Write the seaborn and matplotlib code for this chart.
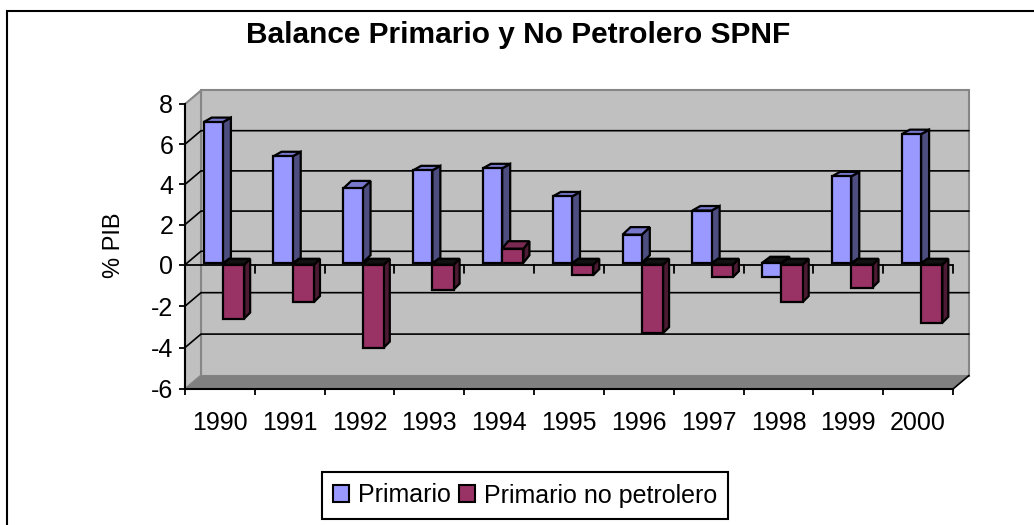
import numpy as np
import pandas as pd
import seaborn as sns
import matplotlib.pyplot as plt
from matplotlib.patches import Polygon
from matplotlib.transforms import IdentityTransform

years = ['1990', '1991', '1992', '1993', '1994', '1995', '1996', '1997', '1998', '1999', '2000']
primario = [7.0, 5.3, 3.7, 4.6, 4.7, 3.3, 1.4, 2.6, -0.7, 4.3, 6.4]
no_petrolero = [-2.6, -1.8, -4.0, -1.2, 0.7, -0.5, -3.3, -0.6, -1.8, -1.1, -2.8]
y_ticks = [-6, -4, -2, 0, 2, 4, 6, 8]

sns.set_theme(style='white')
plt.rcParams['font.family'] = ['Liberation Sans', 'DejaVu Sans']
plt.rcParams['axes.unicode_minus'] = False

W, H = 1034, 525
FS = 18
fig = plt.figure(figsize=(W / 100, H / 100), dpi=100)

# front plane of the fake 3d box, in pixels of the image
left, right, top, bottom = 185, 953, 104, 389
ax = fig.add_axes([left / W, 1 - bottom / H, (right - left) / W, (bottom - top) / H])

df = pd.DataFrame({
    'year': years * 2,
    'value': primario + no_petrolero,
    'serie': ['Primario'] * 11 + ['Primario no petrolero'] * 11,
})

sns.barplot(data=df, x='year', y='value', hue='serie',
            palette=['#9999FF', '#993366'], width=0.58, gap=0,
            edgecolor='black', linewidth=1.6, saturation=1, ax=ax, zorder=5)


# the zero line of the original sits a bit above a straight scale
def squash(v):
    v = np.asarray(v, dtype=float)
    return np.where(v >= 0, v * 20.09, v * 20.7)


def unsquash(p):
    p = np.asarray(p, dtype=float)
    return np.where(p >= 0, p / 20.09, p / 20.7)


ax.set_yscale('function', functions=(squash, unsquash))
ax.set_xlim(-0.5, 10.5)
ax.set_ylim(-6, 8)
ax.set_yticks(y_ticks)
ax.set_yticklabels([str(v) for v in y_ticks])

GREY = '#868686'
WALL_DX, WALL_DY = 16, 13.5
px_x = 11 / (right - left)


def pt(x, y, dx=0, dy=0):
    # data point to display pixels, with an optional pixel offset for depth
    a, b = ax.transData.transform((x, y))
    return (a + dx, b + dy)


def face(points, **kw):
    ax.add_patch(Polygon(points, transform=IdentityTransform(), clip_on=False, joinstyle='miter', **kw))


def seg(points, **kw):
    xs, ys = zip(*points)
    ax.plot(xs, ys, transform=IdentityTransform(), clip_on=False, color='black',
            solid_joinstyle='miter', scalex=False, scaley=False, **kw)


x_a, x_b = -0.5, 10.5
d = (WALL_DX, WALL_DY)

# walls and floor
face([pt(x_a, -6, *d), pt(x_b, -6, *d), pt(x_b, 8, *d), pt(x_a, 8, *d)], fc='#C0C0C0', ec=GREY, lw=1.5, zorder=1)
face([pt(x_a, -6), pt(x_a, -6, *d), pt(x_a, 8, *d), pt(x_a, 8)], fc='#C0C0C0', ec=GREY, lw=1.5, zorder=1)
face([pt(x_a, -6), pt(x_a, -6, *d), pt(x_b, -6, *d), pt(x_b, -6)], fc='#808080', ec='none', zorder=1.5)
seg([pt(x_b, -6), pt(x_b, -6, *d)], lw=1.2, zorder=2)

# gridlines run along the side wall and the back wall
for v in y_ticks[1:-1]:
    seg([pt(x_a, v), pt(x_a, v, *d), pt(x_b, v, *d)], lw=1.2, zorder=2)

# zero line with its ticks
seg([pt(x_a, 0), pt(x_b, 0)], lw=1.3, zorder=3)
for i in range(12):
    seg([pt(i - 0.5, 0), pt(i - 0.5, 0, 0, -8.5)], lw=1.3, zorder=3)

# top and side faces for each bar
colors = {
    'blue': ('#4D4D80', '#7777CC', 8),
    'red': ('#4D1A33', '#7A2952', 6),
}
deep_lids = {('blue', 2), ('blue', 6), ('red', 4)}
shift = 4 * px_x
one_px = 1 * px_x
lift = 2 / 20.09

for serie, cont in zip(['blue', 'red'], ax.containers):
    side_col, lid_col, depth = colors[serie]
    for i, b in enumerate(cont):
        if serie == 'blue':
            b.set_x(b.get_x() + shift)
            b.set_width(b.get_width() - one_px)
        else:
            b.set_x(b.get_x() + shift - one_px)
            b.set_width(b.get_width() + one_px)
        h = b.get_height()
        if serie == 'blue' or h > 0:
            b.set_y(b.get_y() + lift)
        x0, x1 = b.get_x(), b.get_x() + b.get_width()
        y0, y1 = sorted([b.get_y(), b.get_y() + h])
        rise = 7.5 if (serie, i) in deep_lids else 4.5
        if h < 0:
            rise = 6
            lid_col_i = '#111111'
        else:
            lid_col_i = lid_col
        z = 5 + i * 0.1 + (0.05 if serie == 'red' else 0)
        b.set_zorder(z + 0.02)
        b.set_clip_on(False)
        face([pt(x1, y0), pt(x1, y0, depth, rise), pt(x1, y1, depth, rise), pt(x1, y1)],
             fc=side_col, ec='black', lw=1.6, zorder=z)
        face([pt(x0, y1), pt(x0, y1, depth, rise), pt(x1, y1, depth, rise), pt(x1, y1)],
             fc=lid_col_i, ec='black', lw=1.6, zorder=z)

ax.patch.set_visible(False)
ax.set_xlabel('')
ax.set_ylabel('% PIB', fontsize=17, color='black', va='center')
ax.yaxis.set_label_coords((114 - left) / (right - left), (bottom - 245) / (bottom - top))
ax.set_xticks([i - 0.5 for i in range(12)], minor=True)
ax.tick_params(axis='x', which='major', length=0, labelsize=FS, labelcolor='black', pad=16)
ax.tick_params(axis='x', which='minor', length=4.5, width=1.3, color='black', bottom=True)
ax.tick_params(axis='y', length=4.5, width=1.3, color='black', labelsize=FS, labelcolor='black', left=True, pad=4)
sns.despine(ax=ax)
for s in ['left', 'bottom']:
    ax.spines[s].set_color('black')
    ax.spines[s].set_linewidth(1.5)
    ax.spines[s].set_zorder(4)

handles, labels = ax.get_legend_handles_labels()
ax.get_legend().remove()
leg = fig.legend(handles, labels, ncols=2, loc='center', bbox_to_anchor=(525 / W, 1 - 495.5 / H),
                 fontsize=FS, frameon=True, fancybox=False, framealpha=1, edgecolor='black',
                 handlelength=0.65, handleheight=0.65, handletextpad=0.35, columnspacing=0.3,
                 borderpad=0.45, borderaxespad=0, labelcolor='black')
leg.get_frame().set_linewidth(1.5)
for h in leg.legend_handles:
    h.set_edgecolor('black')
    h.set_linewidth(1.5)

fig.text(518 / W, 1 - 43 / H, 'Balance Primario y No Petrolero SPNF', ha='center', va='baseline',
         fontsize=21.5, fontweight='bold', color='black')

# chart border, only the top and left sides show in the image
fig.add_artist(plt.Line2D([7 / W, 7 / W, 1], [0, 1 - 11 / H, 1 - 11 / H], color='black', lw=1.5,
                          solid_joinstyle='miter'))

fig.savefig('out.png', dpi=100)
